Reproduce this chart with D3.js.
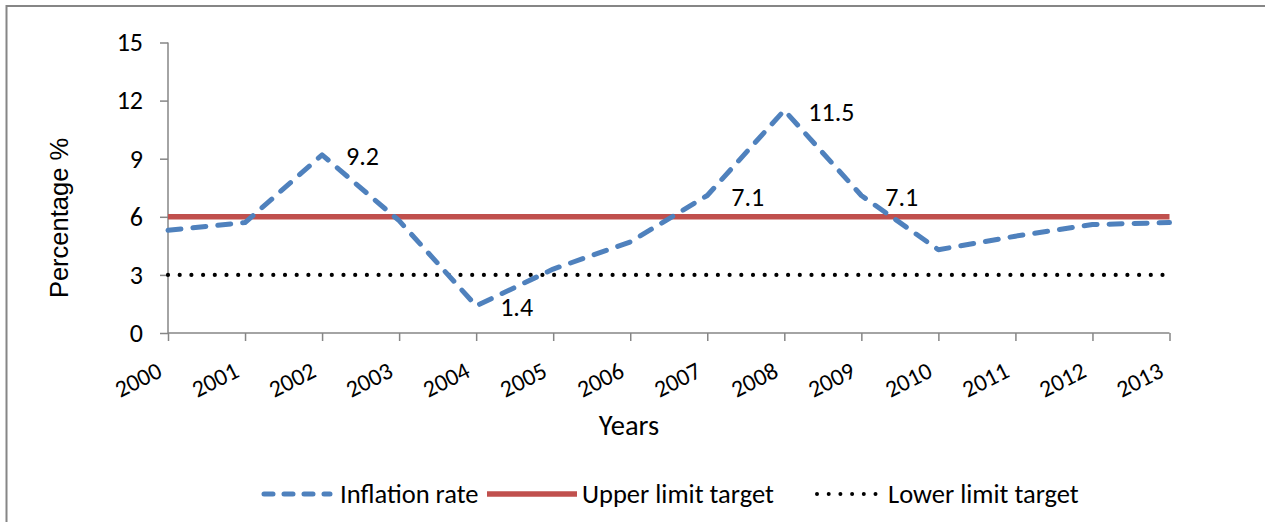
<!DOCTYPE html>
<html>
<head>
<meta charset="utf-8">
<script src="https://cdn.jsdelivr.net/npm/d3@7/dist/d3.min.js"></script>
<style>
  html, body { margin: 0; padding: 0; background: #fff; }
  svg { display: block; }
  text { font-family: Carlito, Lato, "Liberation Sans", sans-serif; fill: #000; }
</style>
</head>
<body>
<svg id="chart" width="1265" height="522"></svg>
<script>
// Yearly inflation against the target band
const years = ["2000","2001","2002","2003","2004","2005","2006","2007","2008","2009","2010","2011","2012","2013"];
const inflationRate = [5.3, 5.7, 9.2, 5.8, 1.4, 3.3, 4.7, 7.1, 11.5, 7.1, 4.3, 5.0, 5.6, 5.7];
const upperLimit = [6, 6, 6, 6, 6, 6, 6, 6, 6, 6, 6, 6, 6, 6];
const lowerLimit = [3, 3, 3, 3, 3, 3, 3, 3, 3, 3, 3, 3, 3, 3];
const labelledYears = ["2002", "2004", "2007", "2008", "2009"];
const yTicks = [0, 3, 6, 9, 12, 15];
const seriesNames = ["Inflation rate", "Upper limit target", "Lower limit target"];

const svg = d3.select("#chart");
const axisGrey = "#868686";
const labelFont = "Carlito, Lato, sans-serif";

// outer frame (top and left edges)
svg.append("path")
  .attr("d", "M6.5,522 V6 H1265")
  .attr("fill", "none")
  .attr("stroke", axisGrey)
  .attr("stroke-width", 2);

const x = d3.scalePoint().domain(years).range([168, 1169.5]);
const y = d3.scaleLinear().domain([0, 15]).range([333, 42.5]);

// y axis
const yAxis = svg.append("g")
  .attr("transform", "translate(168,0)")
  .call(d3.axisLeft(y).tickValues(yTicks).tickSize(8).tickPadding(17).tickFormat(d3.format("d")));
yAxis.selectAll("path, line").attr("stroke", axisGrey).attr("stroke-width", 1.5);
yAxis.select(".domain").attr("d", `M0,${y(15)}V${y(0)}`);
yAxis.selectAll("text").attr("font-size", 26).style("font-family", labelFont);

// x axis
const xAxis = svg.append("g")
  .attr("transform", "translate(0,333)")
  .call(d3.axisBottom(x).tickSize(8).tickSizeOuter(0));
xAxis.selectAll("path, line").attr("stroke", axisGrey).attr("stroke-width", 1.5);
xAxis.select(".domain").attr("d", `M${x(years[0])},0H${x(years[years.length - 1])}`);
xAxis.selectAll("text")
  .attr("font-size", 24)
  .style("font-family", labelFont)
  .attr("text-anchor", "end")
  .attr("dy", null)
  .attr("y", null)
  .attr("transform", "translate(-5,43) rotate(-27)");

const line = d3.line().x((d, i) => x(years[i])).y(d => y(d));

// lower target: round dots
svg.append("path")
  .datum(lowerLimit)
  .attr("d", line)
  .attr("fill", "none")
  .attr("stroke", "#000")
  .attr("stroke-width", 4.2)
  .attr("stroke-linecap", "round")
  .attr("stroke-dasharray", "0 11.7");

// upper target: solid red
svg.append("path")
  .datum(upperLimit)
  .attr("d", line)
  .attr("fill", "none")
  .attr("stroke", "#C0504D")
  .attr("stroke-width", 5.5);

// inflation rate: dashed blue
svg.append("path")
  .datum(inflationRate)
  .attr("d", line)
  .attr("fill", "none")
  .attr("stroke", "#4F81BD")
  .attr("stroke-width", 5)
  .attr("stroke-linecap", "round")
  .attr("stroke-linejoin", "round")
  .attr("stroke-dasharray", "13 12");

// value labels
svg.append("g")
  .selectAll("text")
  .data(years.map((yr, i) => ({ yr, v: inflationRate[i] })).filter(d => labelledYears.includes(d.yr)))
  .join("text")
  .attr("x", d => x(d.yr) + 24)
  .attr("y", d => y(d.v) + 1.5)
  .attr("dominant-baseline", "central")
  .attr("font-size", 26)
  .text(d => d3.format(".1f")(d.v));

// axis titles
svg.append("text")
  .attr("transform", "translate(68,218) rotate(-90)")
  .attr("text-anchor", "middle")
  .style("font-family", "'Liberation Sans', Arial, sans-serif")
  .attr("font-size", 25.5)
  .text("Percentage %");

svg.append("text")
  .attr("x", 629)
  .attr("y", 435)
  .attr("text-anchor", "middle")
  .attr("font-size", 28.5)
  .text("Years");

// legend
const legendY = 494;
const legendItems = [
  { name: seriesNames[0], x0: 264, x1: 330, tx: 340, stroke: "#4F81BD", w: 5, dash: "9 11", cap: "round" },
  { name: seriesNames[1], x0: 487, x1: 577, tx: 582, stroke: "#C0504D", w: 5.5, dash: null, cap: "butt" },
  { name: seriesNames[2], x0: 817, x1: 880, tx: 888, stroke: "#000", w: 4, dash: "0 11.7", cap: "round" }
];
const lg = svg.append("g").selectAll("g").data(legendItems).join("g");
lg.append("line")
  .attr("x1", d => d.x0).attr("x2", d => d.x1)
  .attr("y1", legendY).attr("y2", legendY)
  .attr("stroke", d => d.stroke)
  .attr("stroke-width", d => d.w)
  .attr("stroke-linecap", d => d.cap)
  .attr("stroke-dasharray", d => d.dash);
lg.append("text")
  .attr("x", d => d.tx)
  .attr("y", legendY)
  .attr("dominant-baseline", "central")
  .attr("font-size", 26.5)
  .text(d => d.name);
</script>
</body>
</html>
